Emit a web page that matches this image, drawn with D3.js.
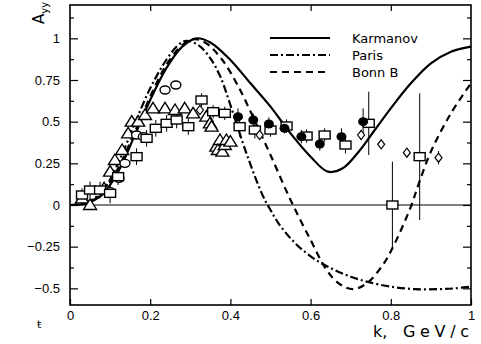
<!DOCTYPE html>
<html>
<head>
<meta charset="utf-8">
<script src="https://cdn.jsdelivr.net/npm/d3@7"></script>
<style>
  body { margin: 0; background: #fff; }
  svg { display: block; font-family: "DejaVu Sans", sans-serif; }
</style>
</head>
<body>
<div id="chart"></div>
<script>
// Theory curves: [k, A_yy]
const karmanov = [[0,0],[0.04,0.01],[0.08,0.06],[0.12,0.2],[0.16,0.41],[0.2,0.63],[0.24,0.82],[0.28,0.95],[0.315,1.0],[0.35,0.975],[0.4,0.87],[0.45,0.73],[0.5,0.59],[0.55,0.43],[0.6,0.29],[0.643,0.2],[0.68,0.22],[0.72,0.32],[0.76,0.45],[0.8,0.58],[0.85,0.73],[0.9,0.85],[0.95,0.92],[1.0,0.95]];
const paris = [[0,0],[0.04,0.015],[0.08,0.08],[0.12,0.25],[0.16,0.48],[0.2,0.7],[0.24,0.87],[0.27,0.96],[0.29,0.985],[0.32,0.96],[0.35,0.88],[0.375,0.77],[0.4,0.6],[0.44,0.31],[0.48,0.06],[0.5,-0.03],[0.52,-0.11],[0.55,-0.2],[0.58,-0.27],[0.62,-0.34],[0.66,-0.39],[0.7,-0.43],[0.74,-0.46],[0.8,-0.49],[0.86,-0.505],[0.92,-0.505],[0.96,-0.5],[1.0,-0.49]];
const bonnB = [[0,0],[0.04,0.01],[0.08,0.07],[0.12,0.22],[0.16,0.43],[0.2,0.65],[0.24,0.84],[0.28,0.96],[0.31,0.995],[0.34,0.97],[0.38,0.87],[0.42,0.71],[0.46,0.51],[0.5,0.3],[0.55,0.03],[0.6,-0.21],[0.64,-0.39],[0.67,-0.47],[0.705,-0.505],[0.74,-0.47],[0.78,-0.36],[0.81,-0.23],[0.85,-0.01],[0.87,0.13],[0.9,0.32],[0.95,0.55],[1.0,0.73]];

// Data points: [k, A_yy, error]
const squares = [[0.03,0.06,0.04],[0.05,0.09,0.05],[0.075,0.09,0.05],[0.1,0.07,0.06],[0.12,0.17,0.05],[0.166,0.29,0.05],[0.191,0.40,0.05],[0.214,0.46,0.05],[0.241,0.49,0.05],[0.266,0.51,0.05],[0.295,0.47,0.05],[0.328,0.63,0.04],[0.357,0.56,0.04],[0.386,0.55,0.04],[0.423,0.47,0.06],[0.461,0.45,0.05],[0.5,0.45,0.04],[0.54,0.474,0.04],[0.59,0.414,0.04],[0.635,0.42,0.04],[0.687,0.36,0.05],[0.745,0.49,0.19],[0.804,0.0,0.26],[0.872,0.29,0.38]];
const triangles = [[0.03,0.04],[0.05,0.0],[0.085,0.1],[0.1,0.2],[0.112,0.27],[0.13,0.33],[0.145,0.43],[0.154,0.5],[0.17,0.5],[0.187,0.54],[0.207,0.58],[0.237,0.58],[0.262,0.57],[0.286,0.58],[0.307,0.55],[0.34,0.53],[0.349,0.49],[0.353,0.47],[0.365,0.35],[0.374,0.39],[0.369,0.33],[0.38,0.32],[0.386,0.36],[0.39,0.39],[0.4,0.38]];
const openCircles = [[0.1,0.08],[0.122,0.16],[0.137,0.25],[0.166,0.42],[0.183,0.41],[0.237,0.69],[0.264,0.72]];
const filledCircles = [[0.419,0.53,0.05],[0.457,0.51,0.04],[0.496,0.486,0.04],[0.535,0.46,0.03],[0.577,0.41,0.04],[0.623,0.366,0.04],[0.677,0.41,0.05],[0.731,0.50,0.08]];
const diamonds = [[0.324,0.57,0.02],[0.473,0.42,0.02],[0.726,0.42,0.03],[0.776,0.364,0.02],[0.84,0.314,0.02],[0.919,0.284,0.04]];

const xTicks = [0, 0.2, 0.4, 0.6, 0.8, 1];
const yTicks = [-0.5, -0.25, 0, 0.25, 0.5, 0.75, 1];
const yMinor = [-0.375, -0.125, 0.125, 0.375, 0.625, 0.875, 1.125];

const legendItems = [
  { name: "Karmanov", data: karmanov, dash: null },
  { name: "Paris", data: paris, dash: "8,3,2,3" },
  { name: "Bonn B", data: bonnB, dash: "7,5" }
];

const W = 481, H = 344;
const svg = d3.select("#chart").append("svg")
  .attr("width", W).attr("height", H);

const x = d3.scaleLinear().domain([0, 1]).range([70, 471]);
const y = d3.scaleLinear().domain([-0.6, 1.2]).range([305, 5]);

// zero line
svg.append("line")
  .attr("x1", x(0)).attr("x2", x(1))
  .attr("y1", y(0)).attr("y2", y(0))
  .attr("stroke", "#000").attr("stroke-width", 1.2);

const fmt = d => d3.format("")(d);

// axes (ticks inward)
svg.append("g").attr("transform", `translate(${x(0)},0)`)
  .call(d3.axisLeft(y).tickValues(yTicks).tickSize(-8).tickPadding(10).tickFormat(fmt));
svg.append("g").attr("transform", `translate(${x(0)},0)`)
  .call(d3.axisLeft(y).tickValues(yMinor).tickSize(-4).tickFormat(""));
svg.append("g").attr("transform", `translate(${x(1)},0)`)
  .call(d3.axisRight(y).tickValues(yTicks).tickSize(-8).tickFormat(""));
svg.append("g").attr("transform", `translate(${x(1)},0)`)
  .call(d3.axisRight(y).tickValues(yMinor).tickSize(-4).tickFormat(""));
svg.append("g").attr("transform", `translate(0,${y(-0.6)})`)
  .call(d3.axisBottom(x).tickValues(xTicks).tickSize(-6).tickPadding(6).tickFormat(fmt));
svg.append("g").attr("transform", `translate(0,${y(1.2)})`)
  .call(d3.axisTop(x).tickValues(xTicks.slice(1, -1)).tickSize(-6).tickFormat(""));

svg.selectAll(".domain").remove();
svg.selectAll(".tick line").attr("stroke", "#000").attr("stroke-width", 1.2);
svg.selectAll(".tick text").attr("fill", "#000").style("font-size", "13px");

// frame
svg.append("rect")
  .attr("x", x(0)).attr("y", y(1.2))
  .attr("width", x(1) - x(0)).attr("height", y(-0.6) - y(1.2))
  .attr("fill", "none").attr("stroke", "#000").attr("stroke-width", 1.6);

// curves
const line = d3.line().x(d => x(d[0])).y(d => y(d[1])).curve(d3.curveCatmullRom);
legendItems.forEach(item => {
  svg.append("path")
    .attr("d", line(item.data))
    .attr("fill", "none")
    .attr("stroke", "#000")
    .attr("stroke-width", 2.2)
    .attr("stroke-dasharray", item.dash);
});

// error bars
const errs = svg.append("g").attr("stroke", "#000").attr("stroke-width", 1);
[squares, filledCircles, diamonds].forEach(set => {
  errs.selectAll(null).data(set).join("line")
    .attr("x1", d => x(d[0])).attr("x2", d => x(d[0]))
    .attr("y1", d => y(d[1] + d[2])).attr("y2", d => y(d[1] - d[2]));
});

// markers
svg.append("g").selectAll("path").data(triangles).join("path")
  .attr("d", d => `M${x(d[0])},${y(d[1]) - 6}l6.5,10.5h-13z`)
  .attr("fill", "#fff").attr("stroke", "#000").attr("stroke-width", 1.4);

svg.append("g").selectAll("ellipse").data(openCircles).join("ellipse")
  .attr("cx", d => x(d[0])).attr("cy", d => y(d[1]))
  .attr("rx", 5).attr("ry", 4)
  .attr("fill", "#fff").attr("stroke", "#000").attr("stroke-width", 1.4);

svg.append("g").selectAll("rect").data(squares).join("rect")
  .attr("x", d => x(d[0]) - 5.5).attr("y", d => y(d[1]) - 4)
  .attr("width", 11).attr("height", 8)
  .attr("fill", "#fff").attr("stroke", "#000").attr("stroke-width", 1.4);

svg.append("g").selectAll("ellipse").data(filledCircles).join("ellipse")
  .attr("cx", d => x(d[0])).attr("cy", d => y(d[1]))
  .attr("rx", 5).attr("ry", 4.5)
  .attr("fill", "#000");

svg.append("g").selectAll("path").data(diamonds).join("path")
  .attr("d", d => `M${x(d[0])},${y(d[1]) - 4.5}l3.5,4.5l-3.5,4.5l-3.5,-4.5z`)
  .attr("fill", "#fff").attr("stroke", "#000").attr("stroke-width", 1.2);

// legend
const legend = svg.append("g");
legendItems.forEach((item, i) => {
  const ly = 38 + i * 17;
  legend.append("line")
    .attr("x1", 270).attr("x2", 330).attr("y1", ly).attr("y2", ly)
    .attr("stroke", "#000").attr("stroke-width", 2)
    .attr("stroke-dasharray", item.dash);
  legend.append("text")
    .attr("x", 352).attr("y", ly + 4.5)
    .style("font-size", "13px")
    .text(item.name);
});

// axis titles
svg.append("text")
  .attr("transform", "translate(44,24) rotate(-90)")
  .style("font-size", "15px")
  .html('A<tspan dy="4" style="font-size:10px">yy</tspan>');

svg.append("text")
  .attr("x", 373).attr("y", 337)
  .style("font-size", "16px")
  .text("k,");
svg.append("text")
  .attr("x", 403).attr("y", 337)
  .attr("textLength", 66)
  .attr("lengthAdjust", "spacing")
  .style("font-size", "16px")
  .text("GeV/c");

svg.append("text")
  .attr("x", 37).attr("y", 328)
  .style("font-size", "11px")
  .text("ŧ");
</script>
</body>
</html>
